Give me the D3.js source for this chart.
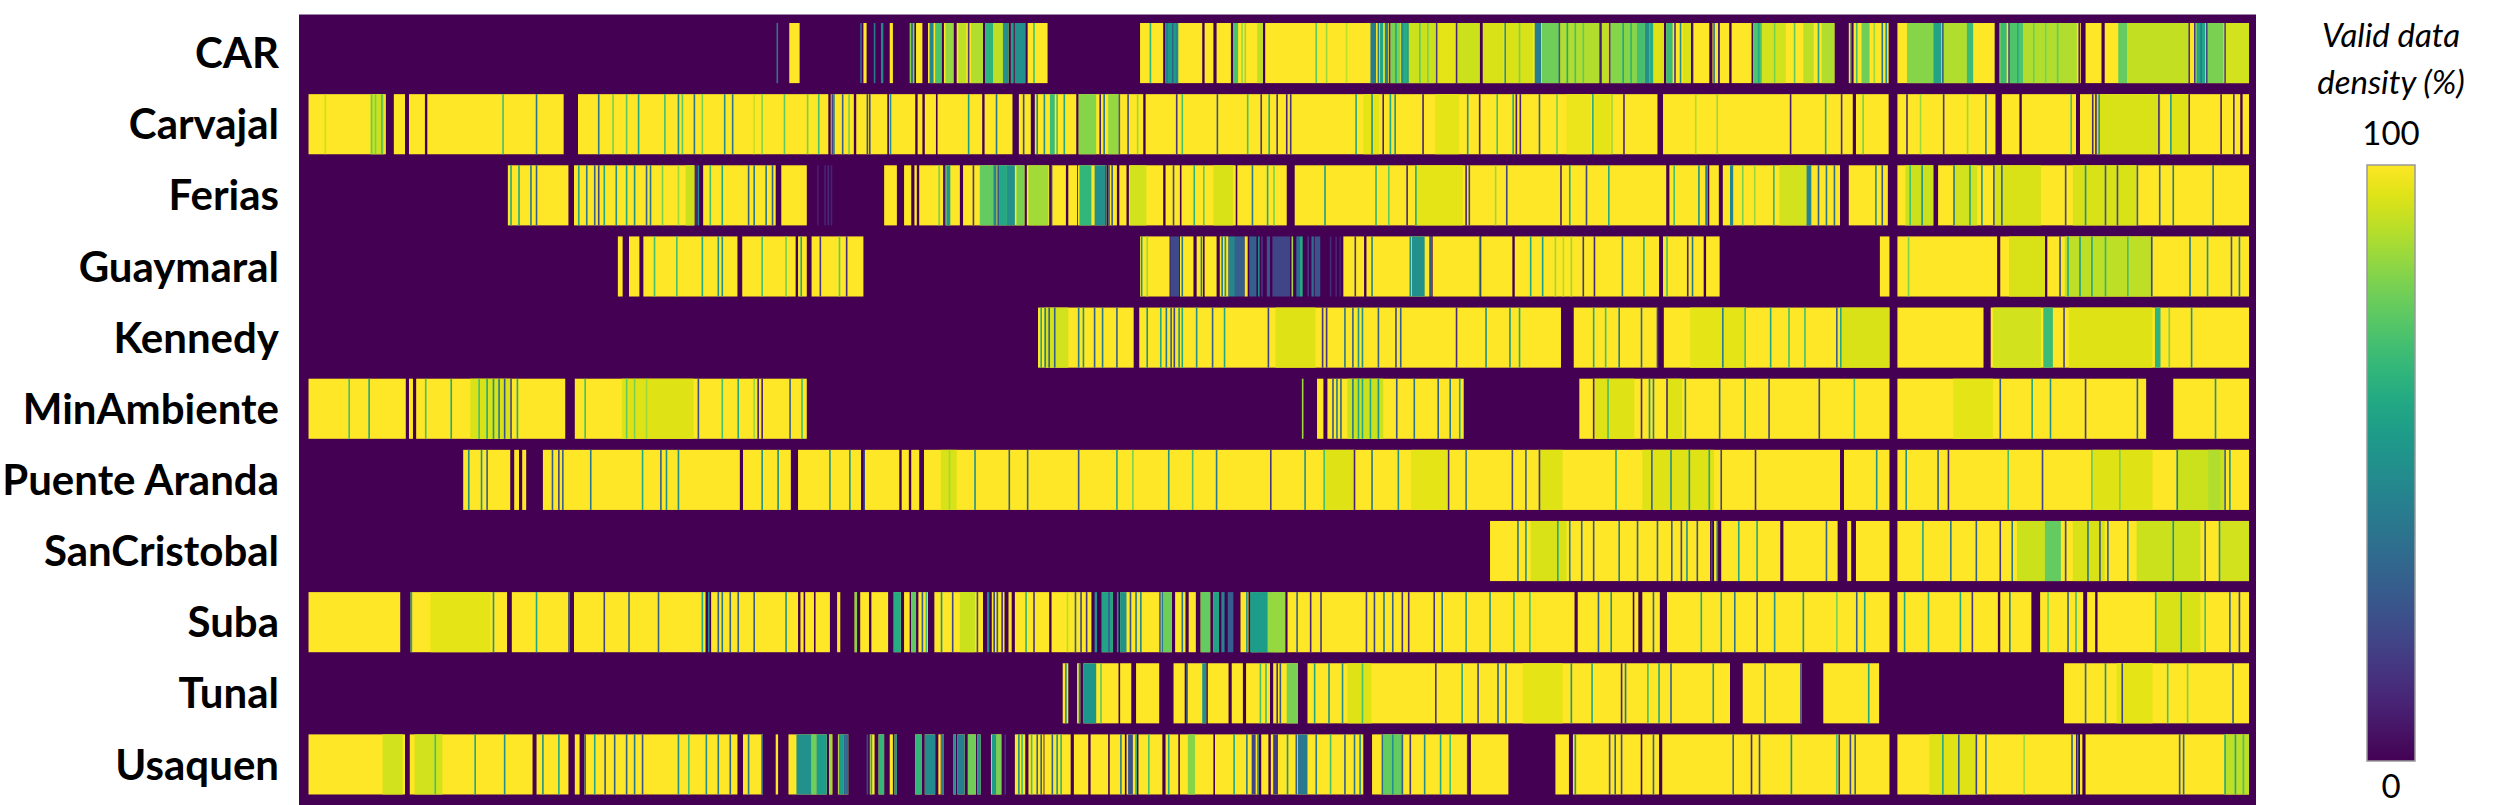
<!DOCTYPE html>
<html><head><meta charset="utf-8"><script src="https://cdn.jsdelivr.net/npm/d3@7"></script>
<style>html,body{margin:0;padding:0;background:#fff;overflow:hidden}svg{display:block}text{font-family:Lato,"Open Sans",sans-serif;fill:#000}</style></head>
<body><svg id="chart" width="2500" height="805"></svg>
<script>
const stations=["CAR","Carvajal","Ferias","Guaymaral","Kennedy","MinAmbiente","Puente Aranda","SanCristobal","Suba","Tunal","Usaquen"];
const legendTitle=["Valid data","density (%)"];
const legendTicks=[100,0];

// Periods with data [from, to] on a record index, partial-density periods [from, to, %], and single-period dips [at, %]
const carRuns=[[990,1003],[1083,1087],[1116,1120],[1149,1157],[1164,1181],[1184,1196],[1200,1233],[1236,1265],[1268,1271],[1273,1286],[1289,1314],[1430,1459],[1462,1508],[1511,1522],[1526,1544],[1547,1584],[1587,1856],[1860,2006],[2009,2087],[2090,2121],[2123,2144],[2148,2155],[2157,2169],[2172,2197],[2199,2301],[2319,2322],[2325,2369],[2380,2502],[2508,2610],[2616,2636],[2640,2821]];
const carBands=[[1079,1081,35],[1096,1098,40],[1105,1108,45],[1141,1147,82],[1166,1171,45],[1173,1181,72],[1186,1196,84],[1202,1212,90],[1218,1233,88],[1236,1246,65],[1246,1258,90],[1258,1265,50],[1268,1271,55],[1273,1286,50],[1462,1478,55],[1547,1553,72],[1577,1584,90],[1719,1726,42],[1731,1735,60],[1737,1741,45],[1744,1756,80],[1757,1765,62],[1765,1800,92],[1803,1825,96],[1827,1856,92],[1860,1886,94],[1889,1923,94],[1925,1933,42],[1934,1956,78],[1957,2006,88],[2009,2017,90],[2019,2053,82],[2053,2063,70],[2063,2069,50],[2069,2074,62],[2074,2087,95],[2090,2098,68],[2111,2121,94],[2199,2210,72],[2210,2240,93],[2262,2275,90],[2285,2301,88],[2335,2345,78],[2392,2425,82],[2425,2435,58],[2436,2467,88],[2467,2475,68],[2509,2517,68],[2521,2538,72],[2538,2605,88],[2657,2668,76],[2668,2745,91],[2755,2766,60],[2768,2789,80],[2791,2821,93]];
const carDips=[[974,40],[1143,30],[1214,15],[1296,70],[1442,65],[1463,40],[1470,30],[1475,45],[1557,85],[1561,85],[1650,75],[1663,85],[1688,90],[1728,40],[1742,10],[1750,60],[1758,50],[1765,50],[1780,75],[1790,80],[1801,15],[1826,10],[1887,50],[1905,80],[1955,30],[1965,60],[1975,70],[1985,75],[2007,10],[2018,15],[2035,60],[2045,65],[2100,15],[2107,50],[2122,5],[2149,40],[2155,10],[2205,60],[2225,80],[2250,75],[2280,60],[2321,30],[2328,70],[2350,85],[2360,40],[2365,50],[2436,30],[2519,20],[2530,60],[2550,78],[2565,80],[2580,75],[2607,10],[2745,15],[2752,15],[2760,40],[2767,20],[2790,20]];

const carvajalRuns=[[387,484],[494,508],[513,533],[536,707],[725,1039],[1042,1071],[1074,1113],[1115,1148],[1151,1157],[1160,1174],[1176,1232],[1235,1270],[1278,1293],[1298,1350],[1353,1434],[1437,2079],[2086,2324],[2328,2369],[2380,2503],[2511,2533],[2536,2604],[2609,2810],[2813,2821]];
const carvajalBands=[[465,482,92],[1317,1323,68],[1353,1375,82],[1390,1403,84],[1710,1730,96],[1800,1830,96],[1965,1995,97],[2000,2020,96],[2630,2710,94],[2722,2745,95]];
const carvajalDips=[[407,92],[465,75],[470,80],[478,70],[630,70],[672,40],[750,40],[768,80],[785,75],[800,60],[833,70],[850,50],[855,75],[870,40],[880,80],[908,50],[918,40],[945,92],[955,82],[983,75],[1012,80],[1026,70],[1043,20],[1045,40],[1056,30],[1064,80],[1087,20],[1090,20],[1116,50],[1214,55],[1249,40],[1283,20],[1300,50],[1309,50],[1325,70],[1334,60],[1379,10],[1384,40],[1403,30],[1414,25],[1426,85],[1475,15],[1482,70],[1526,25],[1564,70],[1581,15],[1591,60],[1601,15],[1613,10],[1618,15],[1700,60],[1720,50],[1734,10],[1743,60],[1749,50],[1784,10],[1840,50],[1855,8],[1877,70],[1897,60],[1901,8],[1906,10],[1930,30],[1952,80],[1997,60],[2021,85],[2036,10],[2126,88],[2153,85],[2245,8],[2289,60],[2309,12],[2336,80],[2391,10],[2408,85],[2437,15],[2467,85],[2490,40],[2597,70],[2624,12],[2628,10],[2632,50],[2707,12],[2722,55],[2745,8],[2785,8],[2801,12]];

const feriasRuns=[[637,713],[720,871],[882,973],[980,1012],[1109,1125],[1134,1143],[1147,1150],[1153,1183],[1186,1204],[1208,1285],[1288,1316],[1319,1337],[1340,1351],[1352,1388],[1390,1401],[1404,1413],[1416,1459],[1462,1480],[1482,1550],[1552,1614],[1624,2090],[2094,2142],[2144,2156],[2161,2308],[2319,2368],[2380,2425],[2431,2821]];
const feriasBands=[[860,871,92],[1187,1192,55],[1229,1246,76],[1246,1250,45],[1252,1263,60],[1263,1273,50],[1275,1285,80],[1290,1315,86],[1354,1369,66],[1373,1386,50],[1417,1438,93],[1522,1547,94],[1775,1835,96],[2139,2142,40],[2170,2174,45],[2232,2266,93],[2266,2272,45],[2390,2425,92],[2450,2480,93],[2500,2560,94],[2600,2680,94]];
const feriasDips=[[640,60],[650,60],[665,40],[672,30],[725,60],[735,40],[745,30],[750,20],[757,60],[772,50],[785,60],[795,50],[810,30],[815,40],[830,80],[850,85],[872,15],[875,50],[890,70],[905,60],[938,30],[945,40],[960,40],[968,30],[1025,8],[1034,10],[1038,12],[1042,10],[1177,80],[1183,10],[1220,15],[1251,25],[1318,15],[1386,25],[1390,20],[1394,30],[1471,20],[1497,65],[1509,75],[1570,40],[1589,60],[1597,80],[1661,55],[1725,65],[1741,75],[1764,12],[1775,60],[1838,10],[1842,20],[1875,85],[1889,20],[1957,8],[1968,60],[1989,20],[2017,60],[2099,70],[2130,50],[2185,80],[2200,85],[2224,65],[2280,30],[2290,40],[2300,35],[2352,50],[2360,30],[2395,70],[2410,50],[2450,40],[2470,60],[2485,50],[2500,25],[2510,30],[2590,20],[2615,50],[2640,25],[2655,20],[2680,30],[2708,30],[2725,40],[2775,40]];

const guaymaralRuns=[[775,781],[789,802],[807,925],[931,998],[1001,1012],[1018,1083],[1430,1467],[1480,1497],[1501,1509],[1511,1526],[1530,1541],[1561,1565],[1685,1711],[1714,1793],[1797,1856],[1858,1897],[1900,2081],[2086,2137],[2140,2157],[2358,2370],[2380,2505],[2509,2565],[2568,2821]];
const guaymaralBands=[[1468,1479,22],[1541,1549,45],[1549,1561,30],[1567,1576,30],[1589,1593,25],[1596,1618,20],[1626,1630,35],[1630,1634,60],[1645,1648,35],[1649,1656,25],[1771,1787,50],[2520,2565,94],[2590,2700,90]];
const guaymaralDips=[[820,70],[848,70],[880,60],[900,50],[905,50],[955,70],[985,80],[1004,60],[1028,15],[1052,75],[1061,12],[1431,50],[1438,85],[1482,40],[1506,40],[1532,40],[1536,50],[1578,50],[1582,15],[1620,85],[1640,15],[1668,12],[1675,10],[1680,8],[1699,15],[1720,45],[1768,50],[1794,40],[1855,60],[1919,60],[1934,55],[1950,85],[1960,88],[1970,85],[1985,15],[1999,12],[2034,40],[2061,60],[2090,70],[2116,10],[2122,40],[2393,80],[2583,20],[2593,60],[2608,55],[2623,60],[2640,65],[2668,70],[2698,20],[2746,40],[2768,50],[2798,25],[2808,40]];

const kennedyRuns=[[1302,1422],[1429,1958],[1974,2079],[2087,2370],[2380,2488],[2497,2821]];
const kennedyBands=[[1310,1340,93],[1600,1650,95],[2120,2190,96],[2310,2370,94],[2500,2560,93],[2563,2575,68],[2595,2700,95],[2703,2710,65]];
const kennedyDips=[[1305,60],[1310,40],[1315,30],[1322,30],[1352,40],[1358,50],[1372,30],[1382,40],[1400,30],[1438,50],[1455,60],[1462,40],[1468,30],[1472,20],[1478,50],[1482,60],[1500,50],[1520,30],[1535,60],[1590,20],[1658,15],[1663,15],[1686,40],[1696,30],[1703,50],[1708,50],[1728,30],[1750,20],[1756,30],[1826,12],[1863,50],[1893,50],[1905,60],[1998,60],[2013,70],[2030,40],[2058,30],[2078,20],[2160,40],[2188,70],[2220,60],[2243,70],[2263,70],[2303,30],[2308,60],[2588,20],[2720,80],[2748,50]];

const minAmbienteRuns=[[387,509],[513,518],[522,709],[721,1012],[1652,1660],[1665,1836],[1981,2370],[2380,2692],[2726,2821]];
const minAmbienteBands=[[590,640,94],[780,870,95],[1690,1735,92],[2000,2050,95],[2090,2110,95],[2450,2500,96]];
const minAmbienteDips=[[437,70],[462,60],[533,70],[565,60],[600,70],[610,60],[618,50],[625,40],[632,25],[640,20],[648,60],[733,70],[785,75],[795,80],[810,85],[875,25],[905,70],[925,60],[945,85],[950,10],[955,10],[990,30],[1005,70],[1633,85],[1671,25],[1676,40],[1681,30],[1696,40],[1703,60],[1708,60],[1718,60],[1728,50],[1751,25],[1773,40],[1803,30],[1818,40],[1830,60],[1998,10],[2016,70],[2058,10],[2068,50],[2073,40],[2090,10],[2113,40],[2156,30],[2188,50],[2218,20],[2281,20],[2325,70],[2508,30],[2548,60],[2571,50],[2615,15],[2680,30],[2778,50]];

const puenteArandaRuns=[[581,640],[645,651],[655,660],[681,928],[932,992],[1001,1080],[1085,1128],[1131,1140],[1143,1153],[1159,2308],[2313,2370],[2380,2821]];
const puenteArandaBands=[[1180,1200,94],[1660,1700,95],[1770,1815,96],[1930,1960,95],[2060,2150,95],[2625,2700,95],[2730,2790,92],[2770,2785,88]];
const puenteArandaDips=[[587,50],[603,50],[610,30],[692,30],[700,20],[705,30],[740,40],[805,60],[828,30],[835,50],[850,50],[955,50],[975,50],[1040,50],[1065,50],[1083,20],[1190,85],[1222,50],[1265,30],[1288,30],[1352,25],[1400,60],[1420,80],[1465,50],[1495,70],[1525,40],[1593,15],[1636,50],[1660,70],[1698,10],[1720,40],[1753,50],[1816,10],[1838,40],[1896,20],[1913,30],[1930,15],[2026,60],[2071,30],[2095,50],[2118,50],[2143,60],[2158,20],[2201,12],[2353,50],[2390,50],[2430,30],[2443,10],[2518,70],[2561,20],[2623,75],[2658,80],[2730,40],[2790,30],[2796,50]];

const sanCristobalRuns=[[1869,2145],[2150,2155],[2159,2233],[2237,2305],[2317,2322],[2328,2370],[2380,2821]];
const sanCristobalBands=[[1920,1965,94],[2530,2565,92],[2565,2585,76],[2600,2640,94],[2680,2760,92],[2785,2821,93]];
const sanCristobalDips=[[1903,40],[1913,50],[1953,60],[1968,40],[1983,30],[1998,25],[2030,40],[2053,30],[2078,30],[2096,30],[2108,20],[2115,50],[2128,25],[2146,20],[2153,40],[2180,60],[2203,60],[2290,30],[2411,60],[2446,40],[2478,30],[2508,15],[2523,40],[2590,20],[2618,40],[2633,25],[2643,30],[2668,40],[2725,50],[2765,30],[2783,50]];

const subaRuns=[[387,502],[515,636],[642,713],[720,885],[892,1001],[1004,1008],[1010,1021],[1023,1041],[1050,1054],[1072,1075],[1079,1090],[1093,1114],[1121,1130],[1134,1141],[1143,1149],[1152,1164],[1172,1233],[1244,1260],[1265,1269],[1273,1316],[1319,1369],[1382,1396],[1405,1470],[1474,1487],[1491,1500],[1506,1518],[1522,1529],[1556,1566],[1569,1612],[1615,1975],[1979,2048],[2050,2055],[2060,2082],[2091,2370],[2380,2506],[2509,2548],[2559,2613],[2618,2628],[2631,2821]];
const subaBands=[[540,615,96],[1072,1075,82],[1121,1130,62],[1143,1149,75],[1204,1223,92],[1238,1241,45],[1373,1376,50],[1382,1396,58],[1405,1413,50],[1459,1470,78],[1506,1518,76],[1522,1529,58],[1532,1536,45],[1540,1547,30],[1570,1578,76],[1580,1597,62],[1597,1612,86],[1568,1590,55],[1590,1612,84],[2703,2760,94]];
const subaDips=[[515,60],[618,50],[672,60],[713,30],[757,20],[788,30],[825,30],[880,60],[888,50],[900,30],[905,40],[915,30],[925,30],[945,30],[985,50],[1156,30],[1161,70],[1180,50],[1194,20],[1225,20],[1246,20],[1250,30],[1256,15],[1286,65],[1296,15],[1338,90],[1348,30],[1355,20],[1362,15],[1390,30],[1401,50],[1417,25],[1424,40],[1430,45],[1454,30],[1457,40],[1482,40],[1563,50],[1626,30],[1643,10],[1656,15],[1713,15],[1723,20],[1735,40],[1746,30],[1758,15],[1766,10],[1798,15],[1808,40],[1838,50],[1868,50],[1898,60],[1918,70],[2004,30],[2020,50],[2073,30],[2133,60],[2158,50],[2175,40],[2203,20],[2225,50],[2261,50],[2303,80],[2328,30],[2338,60],[2388,60],[2418,60],[2458,60],[2473,15],[2520,40],[2568,80],[2593,30],[2603,70],[2703,60],[2735,55],[2765,70],[2796,30],[2808,20]];

const tunalRuns=[[1333,1340],[1351,1355],[1359,1403],[1405,1419],[1425,1454],[1472,1486],[1489,1513],[1515,1541],[1545,1559],[1563,1593],[1597,1628],[1640,2170],[2186,2260],[2287,2357],[2589,2821]];
const tunalBands=[[1359,1375,52],[1508,1513,50],[1614,1628,80],[1690,1720,95],[1910,1960,96],[2655,2700,96]];
const tunalDips=[[1336,50],[1353,45],[1380,75],[1488,35],[1580,70],[1587,70],[1601,15],[1605,25],[1648,60],[1666,50],[1683,50],[1708,70],[1800,15],[1833,60],[1853,20],[1878,30],[1888,40],[1970,50],[1996,60],[2033,10],[2038,40],[2066,70],[2080,60],[2095,30],[2148,50],[2213,40],[2258,20],[2343,60],[2615,30],[2640,50],[2661,20],[2718,70],[2743,80],[2800,30]];

const usaquenRuns=[[387,508],[514,668],[673,713],[721,727],[733,925],[932,957],[973,976],[989,1037],[1040,1044],[1051,1064],[1091,1097],[1102,1109],[1116,1120],[1122,1125],[1148,1156],[1160,1173],[1177,1180],[1181,1184],[1196,1199],[1201,1210],[1214,1224],[1226,1230],[1243,1256],[1273,1286],[1290,1309],[1310,1343],[1347,1365],[1368,1390],[1392,1411],[1413,1426],[1428,1458],[1462,1478],[1480,1522],[1524,1579],[1582,1591],[1594,1710],[1721,1841],[1845,1892],[1951,1968],[1973,2058],[2060,2081],[2085,2370],[2380,2604],[2609,2612],[2616,2821]];
const usaquenBands=[[480,505,93],[520,555,93],[999,1018,50],[1018,1024,78],[1024,1037,55],[1040,1044,85],[1052,1058,55],[1060,1064,35],[1102,1109,66],[1122,1125,50],[1148,1156,66],[1160,1173,48],[1181,1184,40],[1196,1199,50],[1201,1210,42],[1214,1224,78],[1226,1230,50],[1244,1250,55],[1250,1256,80],[1415,1421,25],[1490,1499,82],[1570,1575,20],[1597,1603,18],[1628,1640,40],[1735,1760,76],[2420,2480,95],[2790,2821,90]];
const usaquenDips=[[545,70],[595,60],[632,50],[680,50],[700,60],[733,30],[745,60],[758,25],[770,30],[785,30],[795,40],[805,25],[850,50],[863,70],[885,50],[900,40],[915,30],[938,40],[955,30],[1058,30],[1087,20],[1092,60],[1260,15],[1277,50],[1281,70],[1293,70],[1300,30],[1305,30],[1319,30],[1325,50],[1330,65],[1405,40],[1424,60],[1440,70],[1465,60],[1547,60],[1563,40],[1577,40],[1614,50],[1625,30],[1650,40],[1668,70],[1686,30],[1698,40],[1705,50],[1733,35],[1746,50],[1758,30],[1768,15],[1786,50],[1806,60],[1818,70],[1840,10],[1975,50],[2018,20],[2025,30],[2033,20],[2073,30],[2173,30],[2196,10],[2206,20],[2246,50],[2303,70],[2306,15],[2320,20],[2326,30],[2436,60],[2456,30],[2478,20],[2490,40],[2538,85],[2598,30],[2605,50],[2733,25],[2738,30],[2790,60],[2803,60],[2813,70]];

const fullValue=100;
const rows=[
 [carRuns,carBands,carDips],[carvajalRuns,carvajalBands,carvajalDips],[feriasRuns,feriasBands,feriasDips],
 [guaymaralRuns,guaymaralBands,guaymaralDips],[kennedyRuns,kennedyBands,kennedyDips],[minAmbienteRuns,minAmbienteBands,minAmbienteDips],
 [puenteArandaRuns,puenteArandaBands,puenteArandaDips],[sanCristobalRuns,sanCristobalBands,sanCristobalDips],
 [subaRuns,subaBands,subaDips],[tunalRuns,tunalBands,tunalDips],[usaquenRuns,usaquenBands,usaquenDips]
].map((r,i)=>({name:stations[i],cells:[
  ...r[0].map(d=>({a:d[0],b:d[1],v:fullValue})),
  ...r[1].map(d=>({a:d[0],b:d[1],v:d[2]})),
  ...r[2].map(d=>({a:d[0],b:d[0]+2,v:d[1]}))
]}));

const svg=d3.select("#chart");
const x=d3.scaleLinear().domain([0,2821]).range([0,2249]);
const y=d3.scaleBand().domain(stations).range([17.5,800]).paddingInner(0.155).paddingOuter(0.0775);
const color=d3.scaleSequential(d3.interpolateViridis).domain([0,100]);

const defs=svg.append("defs");
const f=defs.append("filter").attr("id","soft").attr("x",0).attr("y",0).attr("width",1).attr("height",1);
f.append("feGaussianBlur").attr("stdDeviation","0.55 0.4");
const grad=defs.append("linearGradient").attr("id","viridis").attr("x1",0).attr("x2",0).attr("y1",1).attr("y2",0);
d3.range(0,1.001,0.05).forEach(t=>grad.append("stop").attr("offset",t).attr("stop-color",color(t*100)));

svg.append("rect").attr("x",299).attr("y",14).attr("width",1957).attr("height",791).attr("fill",color(0));
svg.append("line").attr("x1",299).attr("x2",2256).attr("y1",14.5).attr("y2",14.5).attr("stroke","#9a86a6").attr("stroke-width",1);

const g=svg.append("g").attr("filter","url(#soft)");
const row=g.selectAll("g").data(rows).join("g").attr("transform",d=>`translate(0,${y(d.name)})`);
row.selectAll("rect").data(d=>d.cells).join("rect")
  .attr("x",d=>x(d.a)).attr("width",d=>Math.max(x(d.b)-x(d.a),1))
  .attr("y",0).attr("height",y.bandwidth()).attr("fill",d=>color(d.v));

// y axis labels
const yAxis=d3.axisLeft(y).tickSize(0).tickPadding(0);
const ax=svg.append("g").attr("transform","translate(279,0)").call(yAxis);
ax.select(".domain").remove();
ax.selectAll("text").style("font-family","Lato").style("font-weight",700).style("font-size","42px").attr("dy","0.36em");

// legend
const lx=2391;
svg.append("g").selectAll("text").data(legendTitle).join("text")
  .attr("x",lx).attr("y",(d,i)=>47+i*47).attr("text-anchor","middle")
  .style("font-style","italic").style("font-size","33px").text(d=>d);
const leg=d3.scaleLinear().domain([0,100]).range([761,165]);
svg.append("rect").attr("x",2367).attr("y",leg(100)).attr("width",48).attr("height",leg(0)-leg(100))
  .attr("fill","url(#viridis)").attr("stroke","#999").attr("stroke-width",1.5);
svg.append("g").selectAll("text").data(legendTicks).join("text")
  .attr("x",lx).attr("y",d=>d===100?145:798).attr("text-anchor","middle").style("font-size","33px").text(d=>d);
</script></body></html>
